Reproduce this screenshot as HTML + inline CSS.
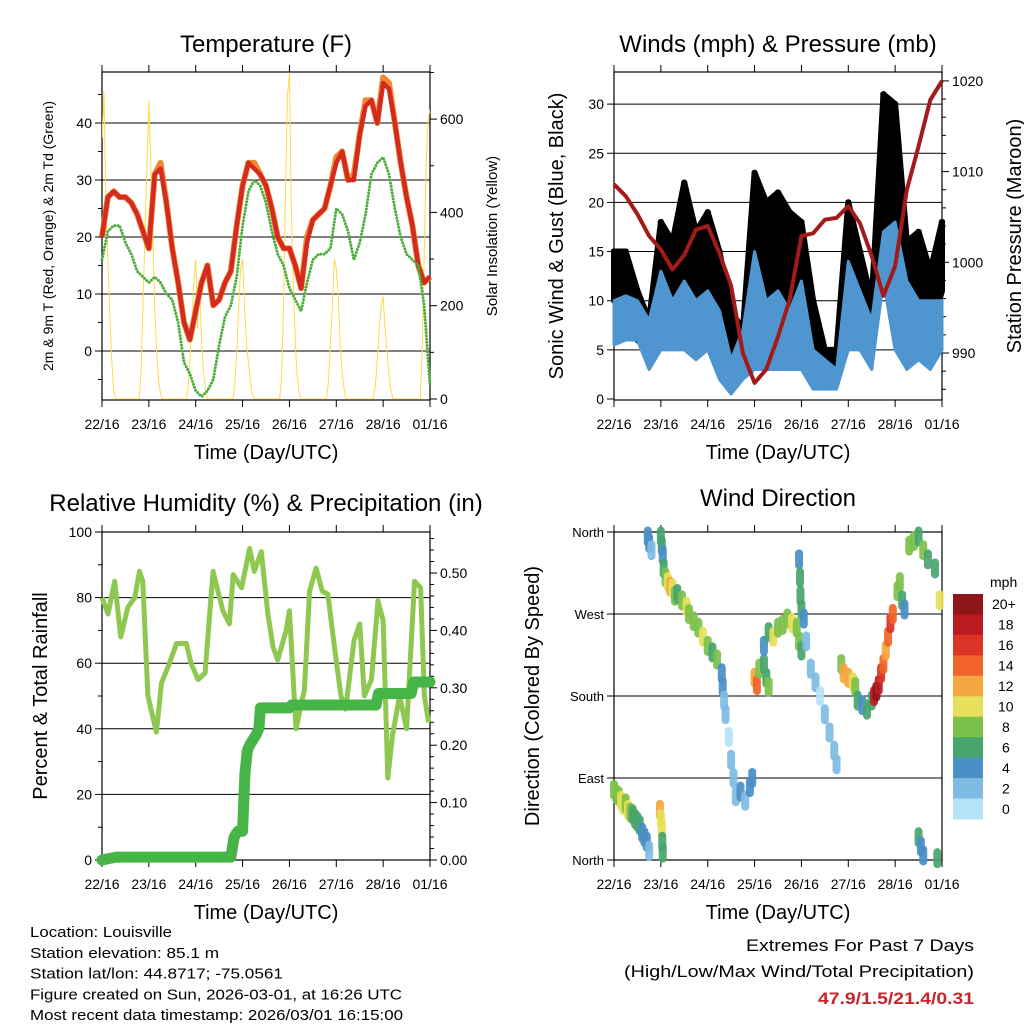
<!DOCTYPE html>
<html><head><meta charset="utf-8"><style>
html,body{margin:0;padding:0;background:#fff}
svg{display:block}
text{font-family:"Liberation Sans",sans-serif;fill:#000}
</style></head><body>
<svg id="s" width="1024" height="1024" viewBox="0 0 1024 1024" xmlns="http://www.w3.org/2000/svg"></svg>
<script>
// ---------- DATA ----------
const tempDays = 7; // 3-hourly samples from 22/16 to 01/16
const tempRed = [20,27,28,27,27,26,24,21, 18,31,32,26,18,12,5,2, 7,12,15,8,9,12,14,22, 29,33,32,31,29,25,20,18, 18,15,11,19,23,24,25,29, 33,35,30,30,38,43,44,40, 47,46,40,33,27,22,15,12, 13];
const tempOrange = [20,27,28,27,27,26,24,21, 18,31,33,26,18,12,5,2, 7,12,15,8,9,12,14,22, 29,33,33,31,29,25,20,18, 18,15,11,20,23,24,25,29, 34,35,30,31,38,44,44,40, 48,47,40,33,27,22,15,12, 13];
const dewGreen = [16,21,22,22,19,17,14,13, 12,13,12,10,9,5,-2,-4, -7,-8,-7,-5,1,6,8,13, 22,28,30,29,26,21,17,15, 11,9,7,12,16,17,17,18, 25,24,21,16,19,24,31,33, 34,31,25,20,17,16,15,8, -6];
const solar = [
560,660,420,300,180,80,20,0, 0,0,0,0,0,0,0,0,0,0,0,0, 60,200,350,500,
640,500,350,200,100,40,10,0, 0,0,0,0,0,0,0,0,0,0,0,0, 20,80,150,250,
300,150,250,120,60,20,0,0, 0,0,0,0,0,0,0,0,0,0,0,0, 30,100,200,280,
300,200,120,80,40,10,0,0, 0,0,0,0,0,0,0,0,0,0,0,0, 50,200,450,650,
700,400,250,120,50,10,0,0, 0,0,0,0,0,0,0,0,0,0,0,0, 40,120,200,300,
280,220,120,60,20,0,0,0, 0,0,0,0,0,0,0,0,0,0,0,0, 30,80,150,200,
220,150,100,50,20,0,0,0, 0,0,0,0,0,0,0,0,0,0,0,0, 100,300,500,600,
620];
// winds, 6-hourly
const windLow  = [5.5,6,6,3,5,5,5,4,5,2,0.5,2,3,3,3,3,3,1,1,1,5,5,3,12,5,3,4,3,5];
const windHigh = [10,10.5,10,8,13,10,12,10,11,9,4,7,15,10,11,9,12,5,4,3,14,11,8,17,18,12,10,10,10];
const gustLow  = [10,10,6,5,10,10,12,10,11,7,2,4,10,10,11,9,10,5,2,2,12,7,5,20,12,7,9,7,11];
const gustHigh = [15,15,11,8,18,16,22,17,19,15,9,7,23,20,21,19,18,10,5,5,20,15,10,31,30,16,17,13,18];
const pressure = [1008.6,1007.3,1005.3,1002.9,1001.4,999.2,1000.8,1003.6,1004.0,1001,997.4,990,986.7,988.2,991.8,995.9,1002.9,1003.2,1004.7,1004.9,1006.2,1004.3,1000.7,996.3,999.6,1008,1012.8,1017.9,1020];
// humidity
const rhDay = [0,0.13,0.27,0.4,0.55,0.7,0.8,0.87,0.98,1.16,1.27,1.44,1.59,1.8,1.9,2.05,2.2,2.37,2.58,2.72,2.8,2.98,3.15,3.25,3.4,3.54,3.65,3.75,3.93,4.0,4.14,4.32,4.43,4.57,4.7,4.82,4.96,5.1,5.2,5.38,5.5,5.6,5.75,5.89,6.0,6.1,6.2,6.35,6.5,6.67,6.8,6.88,6.97];
const rhVal = [80,75,85,68,77,80,88,85,50,39,54,60,66,66,60,55,57,88,76,72,87,83,95,88,94,75,65,61,70,76,40,52,82,89,82,81,65,50,46,67,72,50,55,79,73,25,38,50,40,85,83,50,42];
const precipDay = [0,0.3,2.75,2.82,2.9,3.0,3.05,3.1,3.15,3.3,3.35,3.38,4.0,4.05,5.85,5.9,6.6,6.65,7.0];
const precipVal = [0,0.005,0.005,0.04,0.05,0.05,0.15,0.19,0.2,0.22,0.23,0.265,0.265,0.27,0.27,0.29,0.29,0.31,0.31];
// wind direction
const dirDay = [0,0.05,0.1,0.15,0.2,0.25,0.3,0.35,0.4,0.45,0.5,0.55,0.6,0.65,0.7,0.75, 0.72,0.75,0.8, 0.98,1.0,1.02,1.03,1.04, 1.0,1.02,1.04,1.06, 1.1,1.15,1.2,1.25,1.3,1.35, 1.45,1.55,1.6,1.7,1.8,1.9,2.0,2.1,2.2, 2.3,2.32,2.35,2.38, 2.45,2.5,2.55,2.6,2.7,2.8,2.9,2.95, 3.0,3.05,3.1,3.2,3.25,3.3, 3.2,3.3,3.4,3.5,3.6,3.7,3.8,3.9,3.95,4.0, 3.95,3.97,3.98,4.0, 4.05,4.1,4.2,4.3,4.4,4.5,4.6,4.7,4.75, 4.85,4.9,5.0,5.1,5.15, 5.2,5.3,5.4,5.5, 5.55,5.6,5.65,5.7,5.75,5.8,5.85,5.9,5.95, 6.05,6.1,6.15,6.2, 6.3,6.4,6.5,6.6,6.7,6.85, 6.5,6.55,6.6,6.9, 6.95];
const dirDeg = [77,72,70,65,60,62,55,52,50,45,42,38,30,25,20,10, 355,348,340, 55,45,35,20,8, 355,345,335,320, 310,305,300,298,290,292, 285,278,270,262,255,245,235,228,220, 205,190,175,160, 135,110,90,70,75,65,80,90, 200,192,210,215,200,190, 235,250,245,255,258,265,260,255,240,230, 330,310,290,275, 265,240,210,195,180,160,140,120,105, 215,205,200,195,190, 175,170,165,175, 180,185,192,205,215,230,245,260,270, 295,305,285,275, 345,350,355,340,330,320, 25,15,5,2, 285];
const dirSpd = [8,9,8,10,10,9,10,8,7,6,6,6,5,4,4,3, 4,4,3, 12,11,10,7,6, 6,6,4,6, 8,10,12,10,8,7, 8,10,9,8,9,10,8,7,8, 4,4,3,2, 1,2,2,3,4,3,4,4, 12,14,8,6,6,8, 4,6,10,8,8,9,10,8,8,7, 4,6,6,7, 4,2,2,2,1,3,2,2,2, 8,12,13,10,8, 6,5,6,6, 18,20,18,16,14,12,14,16,15, 8,9,6,4, 8,8,6,8,6,7, 6,4,5,7, 10];
const dayLabels = ["22/16","23/16","24/16","25/16","26/16","27/16","28/16","01/16"];
const cbLabels = ["20+","18","16","14","12","10","8","6","4","2","0"];
const cbColors = ["#8e1518","#bb1c22","#dc3327","#f0642a","#f5a540","#e8e05a","#7cc24a","#48a56e","#4a8fc6","#7fbbe3","#b6e3f8"];

// ---------- HELPERS ----------
const NS="http://www.w3.org/2000/svg";
const svg=document.getElementById('s');
function mk(tag,attrs,parent){const e=document.createElementNS(NS,tag);for(const k in attrs)e.setAttribute(k,attrs[k]);(parent||svg).appendChild(e);return e;}
function txt(str,attrs,parent){const e=mk('text',attrs,parent);e.textContent=str;return e;}
function grp(name){const g=mk('g',{});return g;}
function line(x1,y1,x2,y2,w,parent,c){return mk('line',{x1:x1,y1:y1,x2:x2,y2:y2,stroke:c||'#000','stroke-width':w||1},parent);}

function panel(name,X0,X1,Y0,Y1,opts){
  const g=grp(name+'-axes');
  // horizontal gridlines
  opts.grid.forEach(y=>{const l=line(X0,y,X1,y,1,g);});
  const r=mk('rect',{x:X0,y:Y0,width:X1-X0,height:Y1-Y0,fill:'none',stroke:'#000','stroke-width':1.2},g);
  
  // x ticks
  for(let i=0;i<8;i++){const x=X0+i*(X1-X0)/7;line(x,Y1,x,Y1+7,1,g);line(x,Y0,x,Y0-7,1,g);
    const t=txt(dayLabels[i],{x:x,y:Y1+29,'text-anchor':'middle','font-size':14},g);
    }
  const tt=txt('Time (Day/UTC)',{x:(X0+X1)/2,y:Y1+59,'text-anchor':'middle','font-size':20},g);
  
  return g;
}
function yTicks(g,ticks,labels,x,side,minor,fs){
  ticks.forEach((y,i)=>{line(x,y,x+(side<0?-7:7),y,1,g);
    const t=txt(labels[i],{x:x+(side<0?-10:10),y:y+5,'text-anchor':side<0?'end':'start','font-size':fs||14},g);
    });
  (minor||[]).forEach(y=>line(x,y,x+(side<0?-4:4),y,1,g));
}
function vtitle(str,x,y,fs,parent,name){const t=txt(str,{x:0,y:0,'text-anchor':'middle','font-size':fs,transform:`translate(${x},${y}) rotate(-90)`},parent);return t;}
function title(str,x,y,name){const t=txt(str,{x:x,y:y,'text-anchor':'middle','font-size':24});}

// ---------- PANEL 1: TEMPERATURE ----------
(function(){
  const X0=102,X1=430,Y0=72,Y1=400;
  const xS=d=>X0+d/7*(X1-X0);
  const yL=v=>351-5.7*v;
  const yR=s=>399-0.4665*s;
  title('Temperature (F)',266,52,'temperature-title');
  const g=panel('temperature',X0,X1,Y0,Y1,{grid:[0,10,20,30,40].map(yL)});
  const minorL=[];for(let v=-5;v<=45;v+=5)if(v%10)minorL.push(yL(v));
  yTicks(g,[0,10,20,30,40].map(yL),['0','10','20','30','40'],X0,-1,minorL);
  const minorR=[];for(let v=100;v<=700;v+=200)minorR.push(yR(v));
  yTicks(g,[0,200,400,600].map(yR),['0','200','400','600'],X1,1,minorR);
  vtitle('2m & 9m T (Red, Orange) & 2m Td (Green)',53,236,14,g,'left-y-axis-title');
  vtitle('Solar Insolation (Yellow)',497,236,15,g,'right-y-axis-title');
  const cp=mk('clipPath',{id:'c1'});mk('rect',{x:X0,y:Y0,width:X1-X0,height:Y1-Y0},cp);
  const sol=mk('polyline',{points:solar.map((v,i)=>xS(i/24)+','+yR(v)).join(' '),fill:'none',stroke:'#ffd84a','stroke-width':1,'clip-path':'url(#c1)'});
  
  const n=tempRed.length-1;
  const o=mk('polyline',{points:tempOrange.map((v,i)=>xS(i*7/n)+','+yL(v)).join(' '),fill:'none',stroke:'#f08a30','stroke-width':6,'stroke-linejoin':'round'});
  
  const r=mk('polyline',{points:tempRed.map((v,i)=>xS(i*7/n)+','+yL(v)).join(' '),fill:'none',stroke:'#d42a20','stroke-width':4.5,'stroke-linejoin':'round'});
  
  const dg=mk('polyline',{points:dewGreen.map((v,i)=>xS(i*7/n)+','+yL(v)).join(' '),fill:'none',stroke:'#4cae3c','stroke-width':3,'stroke-linecap':'round','stroke-dasharray':'0 3.2'});
  
})();

// ---------- PANEL 2: WINDS & PRESSURE ----------
(function(){
  const X0=614,X1=942,Y0=72,Y1=400;
  const xS=d=>X0+d/7*(X1-X0);
  const yW=v=>399-9.83*v;
  const yP=p=>353-9.07*(p-990);
  title('Winds (mph) & Pressure (mb)',778,52,'winds-title');
  const g=panel('winds',X0,X1,Y0,Y1,{grid:[5,10,15,20,25,30].map(yW)});
  const mL=[];for(let v=1;v<=33;v++)if(v%5)mL.push(yW(v));
  yTicks(g,[0,5,10,15,20,25,30].map(yW),['0','5','10','15','20','25','30'],X0,-1,mL.filter((_,i)=>i%1==0).slice(0,0));
  const mR=[];for(let p=986;p<=1020;p+=2)if(p%10)mR.push(yP(p));
  yTicks(g,[990,1000,1010,1020].map(yP),['990','1000','1010','1020'],X1,1,mR);
  vtitle('Sonic Wind & Gust (Blue, Black)',563,236,20,g,'left-y-axis-title');
  vtitle('Station Pressure (Maroon)',1021,236,20,g,'right-y-axis-title');
  const n=windLow.length-1;
  const band=(lo,hi)=>hi.map((v,i)=>xS(i*7/n)+','+yW(v)).concat(lo.map((v,i)=>xS(i*7/n)+','+yW(v)).reverse()).join(' ');
  const gb=mk('polygon',{points:band(gustLow,gustHigh),fill:'#000',stroke:'#000','stroke-width':6,'stroke-linejoin':'round'});
  
  gustHigh.forEach((v,i)=>{const c=mk('circle',{cx:xS(i*7/n),cy:yW(v),r:3.2,fill:'#000'});});
  const wb=mk('polygon',{points:band(windLow,windHigh),fill:'#4f96d0',stroke:'#4f96d0','stroke-width':3,'stroke-linejoin':'round'});
  
  const pl=mk('polyline',{points:pressure.map((v,i)=>xS(i*7/n)+','+yP(v)).join(' '),fill:'none',stroke:'#a31a1a','stroke-width':4,'stroke-linejoin':'round'});
  
})();

// ---------- PANEL 3: RH & PRECIP ----------
(function(){
  const X0=102,X1=430,Y0=532,Y1=860;
  const xS=d=>X0+d/7*(X1-X0);
  const yH=v=>860-3.28*v;
  const yPr=v=>860-574*v;
  title('Relative Humidity (%) & Precipitation (in)',266,511,'humidity-title');
  const g=panel('humidity',X0,X1,Y0,Y1,{grid:[20,40,60,80].map(yH)});
  const mL=[];for(let v=10;v<100;v+=20)mL.push(yH(v));
  yTicks(g,[0,20,40,60,80,100].map(yH),['0','20','40','60','80','100'],X0,-1,mL);
  const mR=[];for(let v=0.02;v<0.57;v+=0.02){if(Math.round(v*100)%10)mR.push(yPr(v));}
  yTicks(g,[0,0.1,0.2,0.3,0.4,0.5].map(yPr),['0.00','0.10','0.20','0.30','0.40','0.50'],X1,1,mR);
  vtitle('Percent & Total Rainfall',47,696,20,g,'left-y-axis-title');
  const rh=mk('polyline',{points:rhDay.map((d,i)=>xS(d)+','+yH(rhVal[i])).join(' '),fill:'none',stroke:'#8fc850','stroke-width':5,'stroke-linejoin':'round'});
  
  const pr=mk('polyline',{points:precipDay.map((d,i)=>xS(d)+','+yPr(precipVal[i])).join(' '),fill:'none',stroke:'#46b446','stroke-width':11,'stroke-linejoin':'round','stroke-linecap':'round'});
  
})();

// ---------- PANEL 4: WIND DIRECTION ----------
(function(){
  const X0=614,X1=942,Y0=532,Y1=860;
  const xS=d=>X0+d/7*(X1-X0);
  const yD=d=>860-d*328/360;
  title('Wind Direction',778,506,'wind-direction-title');
  const g=panel('wind-direction',X0,X1,Y0,Y1,{grid:[90,180,270].map(yD)});
  const names=['North','East','South','West','North'];
  yTicks(g,[0,90,180,270,360].map(yD),names,X0,-1,[],13);
  vtitle('Direction (Colored By Speed)',539,696,20,g,'left-y-axis-title');
  const pg=grp('wind-direction-points');
  dirDay.forEach((d,i)=>{
    const idx=Math.min(10,Math.floor(dirSpd[i]/2));
    const x=xS(d),y=yD(dirDeg[i]);
    const p=mk('line',{x1:x,y1:y-6,x2:x,y2:y+6,stroke:cbColors[10-idx],'stroke-width':8,'stroke-linecap':'round',opacity:0.92},pg);
    
    
  });
  // colorbar
  const cb=grp('speed-colorbar');
  const mph=txt('mph',{x:990,y:587,'font-size':14},cb);
  
  const h=225/11;
  cbColors.forEach((c,i)=>{
    const r=mk('rect',{x:953,y:594+i*h,width:30,height:h+0.5,fill:c},cb);
    
    const t=txt(cbLabels[i],{x:cbLabels[i].length>2?992:(cbLabels[i].length>1?998:1002),y:594+i*h+h/2+5,'font-size':14},cb);
    
  });
})();

// ---------- FOOTER TEXT ----------
(function(){
  const g=grp('station-info');
  const lines=[['Location: Louisville',142],['Station elevation: 85.1 m',189],['Station lat/lon: 44.8717; -75.0561',253],['Figure created on Sun, 2026-03-01, at 16:26 UTC',372],['Most recent data timestamp: 2026/03/01 16:15:00',373]];
  lines.forEach((l,i)=>{const t=txt(l[0],{x:30,y:937+i*20.8,'font-size':15,textLength:l[1],lengthAdjust:'spacingAndGlyphs'},g);});
  const e=grp('extremes');
  const a=txt('Extremes For Past 7 Days',{x:974,y:951,'text-anchor':'end','font-size':17,textLength:228,lengthAdjust:'spacingAndGlyphs'},e);
  
  const b=txt('(High/Low/Max Wind/Total Precipitation)',{x:974,y:977,'text-anchor':'end','font-size':17,textLength:350,lengthAdjust:'spacingAndGlyphs'},e);
  
  const c=txt('47.9/1.5/21.4/0.31',{x:974,y:1004,'text-anchor':'end','font-size':17,'font-weight':'bold',fill:'#c8242c',style:'fill:#c8242c',textLength:156,lengthAdjust:'spacingAndGlyphs'},e);
  
})();
</script>
</body></html>
